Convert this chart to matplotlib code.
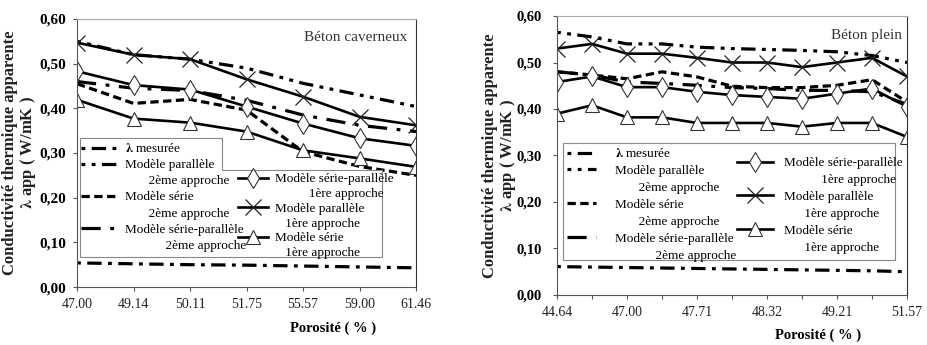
import numpy as np
import matplotlib.pyplot as plt
from matplotlib.patches import Polygon
from matplotlib.lines import Line2D
from matplotlib.legend import Legend

plt.rcParams['font.family'] = ['Liberation Serif', 'DejaVu Serif']
plt.rcParams['mathtext.fontset'] = 'stix'

# beton caverneux
por_cav = ['47.00', '49.14', '50.11', '51.75', '55.57', '59.00', '61.46']
cav_mes = [0.054, 0.052, 0.050, 0.049, 0.047, 0.045, 0.043]
cav_par2 = [0.550, 0.520, 0.510, 0.490, 0.456, 0.430, 0.404]
cav_ser2 = [0.455, 0.411, 0.420, 0.396, 0.303, 0.270, 0.250]
cav_sp2 = [0.460, 0.445, 0.440, 0.418, 0.385, 0.362, 0.348]
cav_sp1 = [0.483, 0.452, 0.442, 0.404, 0.366, 0.333, 0.316]
cav_par1 = [0.547, 0.520, 0.510, 0.465, 0.426, 0.381, 0.362]
cav_ser1 = [0.419, 0.377, 0.368, 0.348, 0.306, 0.288, 0.269]

# beton plein (11 points, une etiquette sur deux)
por_ple = ['44.64', '', '47.00', '', '47.71', '', '48.32', '', '49.21', '', '51.57']
ple_mes = [0.061, 0.060, 0.059, 0.058, 0.057, 0.056, 0.055, 0.054, 0.053, 0.052, 0.050]
ple_par2 = [0.565, 0.555, 0.540, 0.540, 0.533, 0.530, 0.528, 0.526, 0.523, 0.515, 0.500]
ple_ser2 = [0.480, 0.473, 0.465, 0.480, 0.469, 0.449, 0.446, 0.446, 0.451, 0.463, 0.415]
ple_sp2 = [0.480, 0.473, 0.458, 0.455, 0.451, 0.446, 0.444, 0.440, 0.440, 0.437, 0.410]
ple_sp1 = [0.458, 0.470, 0.447, 0.447, 0.437, 0.430, 0.426, 0.422, 0.433, 0.444, 0.405]
ple_par1 = [0.530, 0.540, 0.519, 0.519, 0.510, 0.500, 0.500, 0.490, 0.500, 0.510, 0.470]
ple_ser1 = [0.390, 0.408, 0.382, 0.382, 0.370, 0.370, 0.370, 0.362, 0.370, 0.370, 0.340]

st_mes = (0, (1.2, 2, 4.5, 2))
st_par2 = (0, (1.2, 2, 1.2, 2, 4.5, 2))
st_ser2 = (0, (2.6, 1.4))
st_sp2 = (0, (6, 3, 1.2, 3))
vide = Line2D([], [], ls='none')
yt = np.arange(0, 0.61, 0.1)


def tracer(ax, n, mes, par2, ser2, sp2, sp1, par1, ser1, ysize, ypad, lsp, lpad):
    x = np.arange(n)
    h = {}
    h['mes'], = ax.plot(x, mes, color='k', lw=2.3, ls=st_mes)
    h['par2'], = ax.plot(x, par2, color='k', lw=2.3, ls=st_par2)
    h['ser2'], = ax.plot(x, ser2, color='k', lw=2.3, ls=st_ser2)
    h['sp2'], = ax.plot(x, sp2, color='k', lw=2.3, ls=st_sp2)
    h['sp1'], = ax.plot(x, sp1, color='k', lw=1.9, marker='d', ms=10, mfc='white',
                        mec='#333333', mew=0.8)
    h['par1'], = ax.plot(x, par1, color='k', lw=1.9, marker='x', ms=12, mew=0.9,
                         mec='#222222')
    h['ser1'], = ax.plot(x, ser1, color='k', lw=1.9, marker='^', ms=10, mfc='white',
                         mec='#333333', mew=0.8)
    ax.set_xlim(0, n - 1)
    ax.set_ylim(0, 0.6)
    ax.set_yticks(yt)
    ax.set_yticklabels([('%.2f' % v).replace('.', ',') for v in yt],
                       fontweight='bold', fontsize=ysize)
    ax.tick_params(axis='both', direction='out', length=3, width=0.8, color='#555555')
    ax.tick_params(axis='y', pad=ypad)
    ax.tick_params(axis='x', labelsize=10, pad=5, labelcolor='#222222')
    ax.spines['top'].set_color('#aaaaaa')
    ax.spines['right'].set_color('#333333')
    ax.spines['left'].set_color('#555555')
    ax.spines['bottom'].set_color('#555555')
    ax.set_ylabel('Conductivité thermique apparente\n' + r'$\mathbf{\lambda}$' + ' app ( W/mK )',
                  fontweight='bold', fontsize=12, linespacing=lsp, labelpad=lpad,
                  color='#222222')
    ax.set_xlabel('Porosité ( % )', fontweight='bold', fontsize=10.5)
    return h


def legende(ax, handles, labels, xy, hl, pad, ls):
    leg = Legend(ax, handles, labels, loc='upper left', bbox_to_anchor=xy,
                 bbox_transform=ax.transAxes, frameon=False, fontsize=9.5,
                 handlelength=hl, handletextpad=pad, labelspacing=ls,
                 borderaxespad=0, borderpad=0)
    leg.set_zorder(6)
    ax.add_artist(leg)
    return leg


fig = plt.figure(figsize=(9.27, 3.45), dpi=100)

ax1 = fig.add_axes([0.0831, 0.168, 0.3657, 0.777])
h1 = tracer(ax1, len(por_cav), cav_mes, cav_par2, cav_ser2, cav_sp2, cav_sp1, cav_par1,
            cav_ser1, 11, 5, 1.0, 1)
ax1.set_xticks(np.arange(len(por_cav)))
ax1.set_xticklabels(por_cav)
ax1.xaxis.set_label_coords(0.755, -0.13)
ax1.text(0.975, 0.955, 'Béton caverneux', transform=ax1.transAxes, ha='right', va='top',
         fontsize=11, color='#333333')

# cadre en L de la legende
cadre = Polygon([(0.009, 0.112), (0.009, 0.556), (0.428, 0.556), (0.428, 0.437),
                 (0.90, 0.437), (0.90, 0.112)], closed=True, transform=ax1.transAxes,
                facecolor='white', edgecolor='#888888', lw=0.8, zorder=5)
ax1.add_patch(cadre)
legende(ax1, [h1['mes'], h1['par2'], vide, h1['ser2'], vide, h1['sp2'], vide],
        [r'$\mathbf{\lambda}$ mesurée', 'Modèle parallèle', '       2ème approche',
         'Modèle série', '       2ème approche', 'Modèle série-parallèle',
         '            2ème approche'],
        (0.012, 0.54), 2.9, 0.45, 0.29)
legende(ax1, [h1['sp1'], vide, h1['par1'], vide, h1['ser1'], vide],
        ['Modèle série-parallèle', '          1ère approche', 'Modèle parallèle',
         '   1ère approche', 'Modèle série', '   1ère approche'],
        (0.475, 0.425), 2.3, 0.5, 0.19)

ax2 = fig.add_axes([0.6009, 0.145, 0.3775, 0.8086])
h2 = tracer(ax2, len(por_ple), ple_mes, ple_par2, ple_ser2, ple_sp2, ple_sp1, ple_par1,
            ple_ser1, 10.5, 8, 1.0, -1)
ax2.set_xticks(np.arange(len(por_ple)))
ax2.set_xticklabels(por_ple)
ax2.xaxis.set_label_coords(0.746, -0.12)
ax2.text(0.985, 0.955, 'Béton plein', transform=ax2.transAxes, ha='right', va='top',
         fontsize=11, color='#333333')
cadre2 = Polygon([(0.017, 0.125), (0.017, 0.545), (0.966, 0.545), (0.966, 0.125)],
                 closed=True, transform=ax2.transAxes, facecolor='white',
                 edgecolor='#888888', lw=0.8, zorder=5)
ax2.add_patch(cadre2)
legende(ax2, [h2['mes'], h2['par2'], vide, h2['ser2'], vide, h2['sp2'], vide],
        [r'$\mathbf{\lambda}$ mesurée', 'Modèle parallèle', '       2ème approche',
         'Modèle série', '       2ème approche', 'Modèle série-parallèle',
         '            2ème approche'],
        (0.029, 0.53), 2.15, 1.5, 0.36)
legende(ax2, [h2['sp1'], vide, h2['par1'], vide, h2['ser1'], vide],
        ['Modèle série-parallèle', '           1ère approche', 'Modèle parallèle',
         '      1ère approche', 'Modèle série', '      1ère approche'],
        (0.514, 0.495), 2.7, 0.85, 0.36)

fig.savefig('out.png', dpi=100)
